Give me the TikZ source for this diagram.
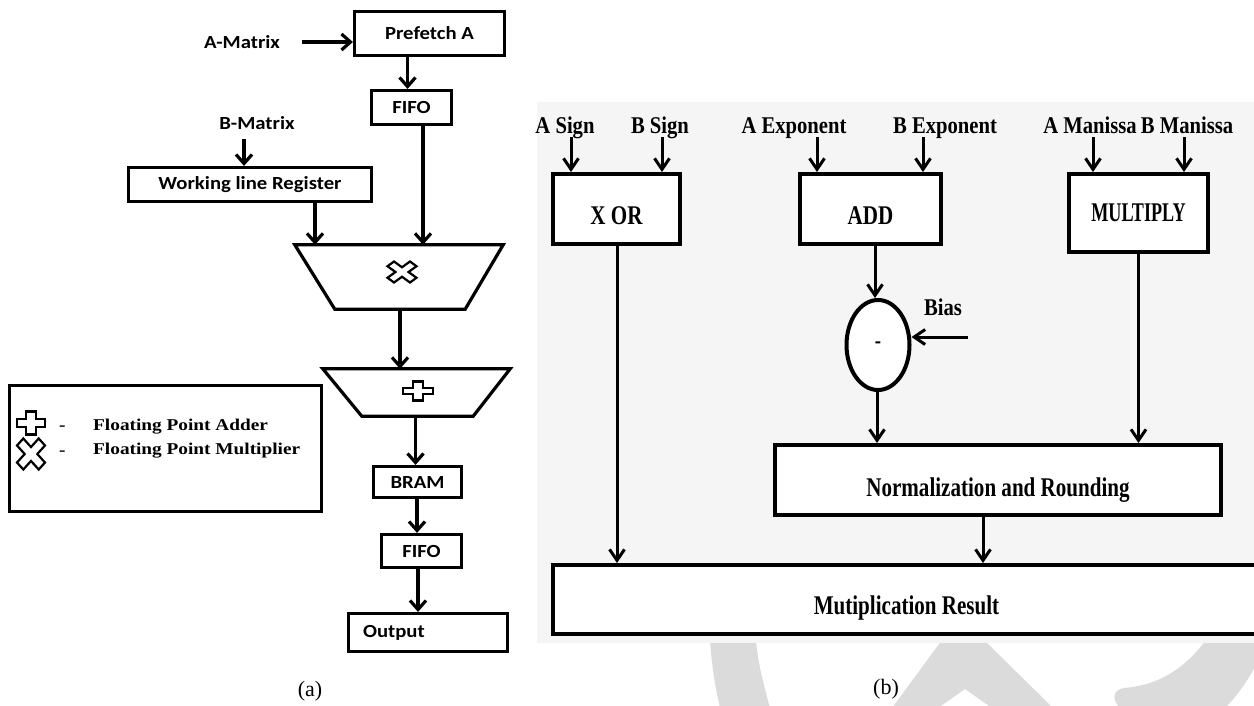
\documentclass[tikz,border=0pt]{standalone}
\usepackage{fontspec}
\setmainfont{Liberation Serif}
\newfontfamily\calib[FakeStretch=1.12]{Carlito}
\newfontfamily\labf[FakeStretch=0.86]{Liberation Serif}
\newfontfamily\boxf[FakeStretch=0.78]{Liberation Serif}
\newfontfamily\legf[FakeStretch=1.17]{Liberation Serif}
\usetikzlibrary{arrows.meta,shapes.geometric,calc}
\tikzset{
  abox/.style={draw, line width=3.2pt, inner sep=0pt, fill=white, font=\calib\bfseries\fontsize{18.5}{19}\selectfont},
  alab/.style={inner sep=0pt, font=\calib\bfseries\fontsize{18.5}{19}\selectfont},
  bbox/.style={draw, line width=4pt, inner sep=0pt, fill=white, font=\boxf\bfseries\fontsize{27}{28}\selectfont},
  blab/.style={inner sep=0pt, anchor=base, font=\labf\bfseries\fontsize{24}{25}\selectfont},
  aarr/.style={line width=3.2pt, -{Straight Barb[length=9pt,width=16pt,line width=3.2pt]}},
  barr/.style={line width=3pt, -{Straight Barb[length=11pt,width=15pt,line width=3pt]}},
  trap/.style={line width=3.2pt, line join=miter, fill=white},
  symb/.style={line width=2.2pt, line join=miter, fill=white},
  leg/.style={inner sep=0pt, anchor=west, font=\legf\bfseries\fontsize{16.5}{17}\selectfont},
  figcap/.style={inner sep=0pt, font=\fontsize{22}{24}\selectfont},
  plusshape/.pic={\draw[symb] (0.35,1) -- (0.35,0.35) -- (1,0.35) -- (1,-0.35) -- (0.35,-0.35) -- (0.35,-1) -- (-0.35,-1) -- (-0.35,-0.35) -- (-1,-0.35) -- (-1,0.35) -- (-0.35,0.35) -- (-0.35,1) -- cycle;},
  crossshape/.pic={\draw[symb] (-0.55,1) -- (0,0.45) -- (0.55,1) -- (1,0.55) -- (0.45,0) -- (1,-0.55) -- (0.55,-1) -- (0,-0.45) -- (-0.55,-1) -- (-1,-0.55) -- (-0.45,0) -- (-1,0.55) -- cycle;}
}
\begin{document}
\begin{tikzpicture}[x=1pt,y=-1pt]
\path[use as bounding box, clip] (0,0) rectangle (1254,705);
\fill[white] (0,0) rectangle (1254,705);
% watermark (faint)
\begin{scope}
\clip (537,640) rectangle (1254,705);
\fill[black!14] (710,640) .. controls (712,670) and (716,690) .. (720,708) -- (770,708) .. controls (764,685) and (758,665) .. (756,640) -- cycle;
\fill[black!14] (892,708) -- (942,640) -- (984,640) -- (1053,708) -- (992,708) -- (965,689) -- (938,708) -- cycle;
\fill[black!14] (1206,640) .. controls (1185,668) and (1160,685) .. (1124,688) .. controls (1112,690) and (1112,700) .. (1120,708) -- (1225,708) .. controls (1238,695) and (1248,680) .. (1256,665) -- (1256,640) -- cycle;
\end{scope}
% (b) background
\fill[black!4] (537,102) rectangle (1256,643);

% ---------- (a) ----------
\node[alab] (amat) at (242,42) {A-Matrix};
\node[abox, minimum width=150pt, minimum height=44pt] (pre) at (429.5,33.5) {Prefetch A};
\node[abox, minimum width=80pt, minimum height=34pt] (fifoa) at (411.5,107.5) {FIFO};
\node[alab] (bmat) at (257,123) {B-Matrix};
\node[abox, minimum width=243pt, minimum height=34pt] (wlr) at (250,184.5) {Working line Register};
\node[inner sep=0pt, minimum width=208pt, minimum height=64pt] (mul) at (399,277) {};
\draw[trap] (mul.north west) -- (mul.north east) -- ([xshift=-38pt]mul.south east) -- ([xshift=40pt]mul.south west) -- cycle;
\pic[xscale=14.5, yscale=10.5] at (402,272) {crossshape};
\node[inner sep=0pt, minimum width=187pt, minimum height=47pt] (add) at (416.5,392.5) {};
\draw[trap] (add.north west) -- (add.north east) -- ([xshift=-37pt]add.south east) -- ([xshift=39pt]add.south west) -- cycle;
\pic[xscale=15, yscale=9.5] at (418,391) {plusshape};
\node[abox, minimum width=88pt, minimum height=31pt] (bram) at (417.5,482) {BRAM};
\node[abox, minimum width=80pt, minimum height=33pt] (fifob) at (421.5,551) {FIFO};
\node[abox, minimum width=159pt, minimum height=38pt, text width=130pt, align=left] (out) at (428,632.5) {Output};

\coordinate (amatend) at (302,42);
\draw[aarr] (amatend) -- (amatend -| pre.west);
\draw[aarr] ([xshift=-4pt]fifoa.north |- pre.south) -- ([xshift=-4pt]fifoa.north);
\draw[aarr] ([xshift=11.5pt]fifoa.south) -- ([xshift=11.5pt]fifoa.south |- mul.north);
\coordinate (bmatend) at (244,139);
\draw[aarr] (bmatend) -- (bmatend |- wlr.north);
\draw[aarr] ([xshift=65pt]wlr.south) -- ([xshift=65pt]wlr.south |- mul.north);
\draw[aarr] ([xshift=1pt]mul.south) -- ([xshift=1pt]mul.south |- add.north);
\draw[aarr] ([xshift=-1pt]add.south) -- ([xshift=-1pt]add.south |- bram.north);
\draw[aarr] ([xshift=-0.5pt]bram.south) -- ([xshift=-0.5pt]bram.south |- fifob.north);
\draw[aarr] ([xshift=-3.5pt]fifob.south) -- ([xshift=-3.5pt]fifob.south |- out.north);

% legend
\node[draw, line width=3pt, minimum width=312pt, minimum height=126pt, inner sep=0pt] (legend) at (165.5,448.5) {};
\pic[xscale=14, yscale=11.5] at (31,423) {plusshape};
\pic[xscale=14, yscale=15.5] at (31,454) {crossshape};
\node[leg] (dash1) at (59,428) {-};
\node[leg] (dash2) at (59,453) {-};
\node[leg] (ladd) at (93,427) {Floating Point Adder};
\node[leg] (lmul) at (93,451) {Floating Point Multiplier};

\node[figcap] (capa) at (310,691) {(a)};

% ---------- (b) ----------
\node[blab] (asgn) at (565,133) {A Sign};
\node[blab] (bsgn) at (660,133) {B Sign};
\node[blab] (aexp) at (794,133) {A Exponent};
\node[blab] (bexp) at (945,133) {B Exponent};
\node[blab] (aman) at (1090,133) {A Manissa};
\node[blab] (bman) at (1187,133) {B Manissa};

\node[bbox, minimum width=127pt, minimum height=70pt, text height=30pt, text depth=0pt] (xor) at (616.5,209) {X OR};
\node[bbox, minimum width=141pt, minimum height=70pt, text height=30pt, text depth=0pt] (addb) at (870.5,209) {ADD\hspace{16pt}};
\node[bbox, minimum width=139pt, minimum height=78pt] (mult) at (1138.5,213) {\scalebox{0.86}[1]{MULTIPLY}};
\node[draw, ellipse, line width=4pt, fill=white, minimum width=63pt, minimum height=90pt, inner sep=0pt, font=\boxf\bfseries\fontsize{24}{25}\selectfont] (sub) at (878,345) {-};
\node[blab] (bias) at (943,315) {Bias};
\node[bbox, minimum width=446pt, minimum height=70pt, text height=32pt, text depth=0pt] (norm) at (998,480) {Normalization and Rounding\hspace{36pt}};
\node[bbox, minimum width=707pt, minimum height=69pt, text height=29pt, text depth=0pt] (res) at (906.5,599.5) {Mutiplication Result};

\coordinate (asin) at (571,137);
\coordinate (bsin) at (662,137);
\coordinate (aein) at (817,137);
\coordinate (bein) at (923,137);
\coordinate (amin) at (1093,137);
\coordinate (bmin) at (1184,137);
\draw[barr] (asin) -- (asin |- xor.north);
\draw[barr] (bsin) -- (bsin |- xor.north);
\draw[barr] (aein) -- (aein |- addb.north);
\draw[barr] (bein) -- (bein |- addb.north);
\draw[barr] (amin) -- (amin |- mult.north);
\draw[barr] (bmin) -- (bmin |- mult.north);
\draw[barr] ([xshift=0.5pt]xor.south) -- ([xshift=0.5pt]xor.south |- res.north);
\draw[barr] ([xshift=-3pt]sub.north |- addb.south) -- ([xshift=-3pt]sub.north);
\coordinate (biasin) at (968,337);
\draw[barr] (biasin) -- (biasin -| sub.east);
\draw[barr] ([xshift=-1pt]sub.south) -- ([xshift=-1pt]sub.south |- norm.north);
\draw[barr] (mult.south) -- (mult.south |- norm.north);
\draw[barr] ([xshift=-15pt]norm.south) -- ([xshift=-15pt]norm.south |- res.north);

\node[figcap] (capb) at (886,689) {(b)};
\end{tikzpicture}
\end{document}
